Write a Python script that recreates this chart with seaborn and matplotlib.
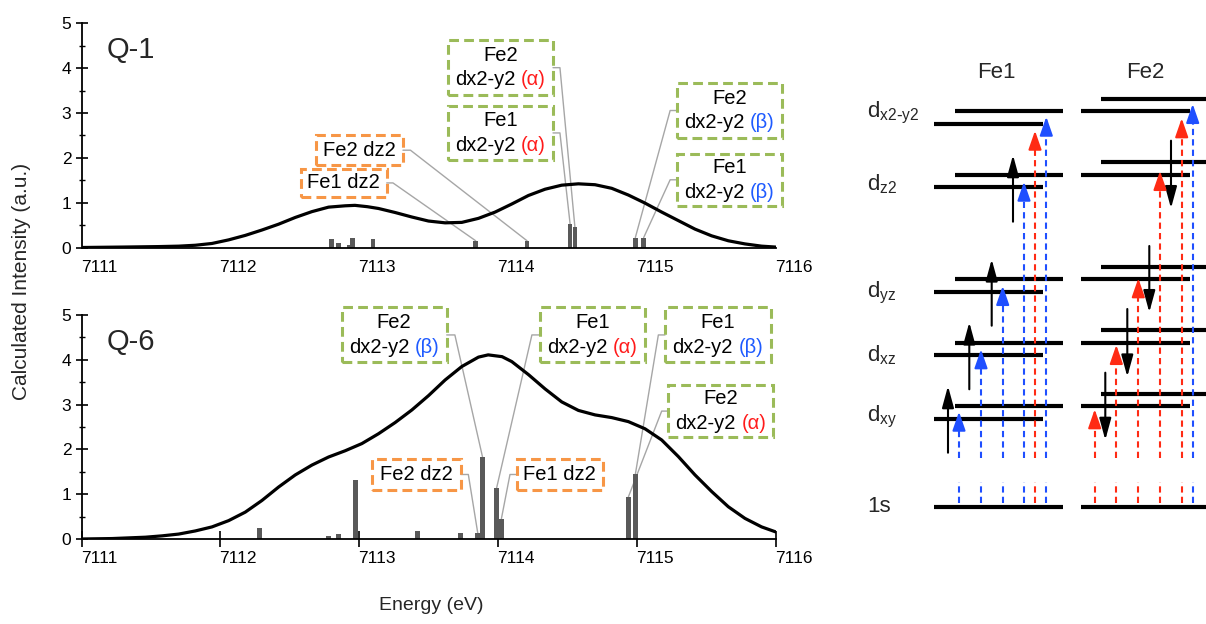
import numpy as np
import pandas as pd
import matplotlib
matplotlib.use("Agg")
import matplotlib.pyplot as plt
import seaborn as sns
from matplotlib.patches import Rectangle
from matplotlib.offsetbox import TextArea, HPacker, VPacker, AnnotationBbox
from matplotlib.transforms import ScaledTranslation

# ---------------- data ----------------
energy_ticks = [7111, 7112, 7113, 7114, 7115, 7116]
intensity_ticks = [0, 1, 2, 3, 4, 5]

# Q-1 stick transitions
q1_bar_e = [7112.80, 7112.853, 7112.93, 7112.95, 7113.10, 7113.84, 7114.21, 7114.52, 7114.555, 7114.99, 7115.05]
q1_bar_i = [0.19, 0.11, 0.06, 0.22, 0.19, 0.15, 0.15, 0.53, 0.45, 0.22, 0.22]
# Q-1 broadened spectrum
q1_e = [7111.00, 7111.30, 7111.55, 7111.70, 7111.82, 7111.94, 7112.06, 7112.18, 7112.30, 7112.42,
        7112.54, 7112.66, 7112.78, 7112.90, 7112.97, 7113.06, 7113.14, 7113.26, 7113.38, 7113.50,
        7113.62, 7113.74, 7113.86, 7113.98, 7114.10, 7114.22, 7114.34, 7114.46, 7114.58, 7114.70,
        7114.82, 7114.94, 7115.06, 7115.18, 7115.30, 7115.42, 7115.54, 7115.66, 7115.78, 7115.90,
        7116.00]
q1_i = [0.00, 0.01, 0.02, 0.03, 0.05, 0.09, 0.17, 0.27, 0.39, 0.52,
        0.67, 0.80, 0.90, 0.93, 0.94, 0.91, 0.87, 0.78, 0.68, 0.59,
        0.55, 0.56, 0.65, 0.79, 0.97, 1.16, 1.30, 1.39, 1.42, 1.40,
        1.32, 1.17, 0.99, 0.79, 0.60, 0.41, 0.26, 0.15, 0.08, 0.03,
        0.01]

# Q-6 stick transitions
q6_bar_e = [7112.285, 7112.78, 7112.853, 7112.975, 7113.42, 7113.73, 7113.855, 7113.89, 7113.99, 7114.025, 7114.94, 7114.99]
q6_bar_i = [0.25, 0.06, 0.105, 1.32, 0.18, 0.13, 0.13, 1.82, 1.13, 0.45, 0.94, 1.44]
# Q-6 broadened spectrum
q6_e = [7111.00, 7111.22, 7111.46, 7111.58, 7111.70, 7111.82, 7111.94, 7112.06, 7112.18, 7112.30,
        7112.42, 7112.54, 7112.66, 7112.78, 7112.90, 7113.02, 7113.14, 7113.26, 7113.38, 7113.50,
        7113.62, 7113.74, 7113.86, 7113.93, 7114.03, 7114.10, 7114.22, 7114.34, 7114.46, 7114.58,
        7114.70, 7114.82, 7114.94, 7115.06, 7115.18, 7115.30, 7115.42, 7115.54, 7115.66, 7115.78,
        7115.90, 7116.00]
q6_i = [0.00, 0.01, 0.04, 0.07, 0.11, 0.18, 0.27, 0.41, 0.60, 0.86,
        1.16, 1.43, 1.65, 1.83, 1.97, 2.13, 2.35, 2.60, 2.88, 3.20,
        3.55, 3.85, 4.06, 4.11, 4.07, 3.96, 3.67, 3.35, 3.06, 2.87,
        2.77, 2.71, 2.62, 2.46, 2.21, 1.84, 1.43, 1.06, 0.72, 0.46,
        0.27, 0.16]

# annotation labels: (site, orbital, spin, target bar index)
q1_labels = [("Fe2", "dx2-y2", "α", 8), ("Fe1", "dx2-y2", "α", 7), ("Fe2", "dz2", None, 6),
             ("Fe1", "dz2", None, 5), ("Fe2", "dx2-y2", "β", 9), ("Fe1", "dx2-y2", "β", 10)]
q6_labels = [("Fe2", "dx2-y2", "β", 7), ("Fe1", "dx2-y2", "α", 8), ("Fe1", "dx2-y2", "β", 11),
             ("Fe2", "dx2-y2", "α", 10), ("Fe2", "dz2", None, 6), ("Fe1", "dz2", None, 9)]

# energy-level diagram (schematic)
orbitals = [r"d$_{x2\text{-}y2}$", r"d$_{z2}$", r"d$_{yz}$", r"d$_{xz}$", r"d$_{xy}$"]
fe1_upper = [111, 175, 279, 343.3, 406]
fe1_lower = [124.3, 187, 292.3, 355.3, 419.3]
fe2_upper = [99.3, 162.3, 267.3, 330.3, 394.3]
fe2_lower = [111, 175, 279, 343.3, 406]
fe1_spin_tail = [221.7, 325.7, 389.3, 452.7]
fe1_spin_tip = [155, 259.3, 322.3, 386]
fe2_spin_tail = [140.7, 246, 309, 372.7]
fe2_spin_tip = [208.3, 312.3, 376.7, 440]
fe1_trans_tip = [411.7, 349.3, 286, 181.7, 130.7, 116.7]
fe1_trans_spin = ["β", "β", "β", "β", "α", "β"]
fe2_trans_tip = [409.3, 345, 278.3, 171, 118.3, 104]
fe2_trans_spin = ["α", "α", "α", "α", "α", "β"]

# ---------------- style / layout ----------------
sns.set_theme(style="white")
plt.rcParams["font.family"] = ["Liberation Sans", "DejaVu Sans"]
plt.rcParams["mathtext.default"] = "regular"

GREEN = "#9BBB59"
ORANGE = "#F79646"
RED = "#FF1A1A"
BLUE = "#1F5BFF"
ARED = "#FF2B14"
ABLUE = "#1F4FFF"
BAR = "#595959"
LEAD = "#A6A6A6"
FS_BOX = 14.5

W, H = 1206, 624
fig = plt.figure(figsize=(W / 100, H / 100), dpi=100)

def fx(px):
    return px / W

def fy(py):
    return 1 - py / H

ax1 = fig.add_axes([fx(81.5), fy(247.5), fx(694), 224.2 / H])
ax2 = fig.add_axes([fx(81.5), fy(539), fx(694), 224.0 / H])

# box layout (data coords) : x0, x1, y0, y1, leader side, stub x
q1_boxes = [(7113.640, 7114.397, 3.40, 4.62, "right", 7114.447),
            (7113.640, 7114.397, 1.95, 3.16, "right", 7114.447),
            (7112.690, 7113.316, 1.83, 2.51, "right", 7113.370),
            (7112.579, 7113.199, 1.13, 1.75, "right", 7113.244),
            (7115.288, 7116.045, 2.44, 3.67, "left", 7115.241),
            (7115.288, 7116.045, 0.93, 2.09, "left", 7115.241)]
q6_boxes = [(7112.874, 7113.631, 3.94, 5.17, "right", 7113.690),
            (7114.303, 7115.060, 3.94, 5.17, "left", 7114.245),
            (7115.204, 7115.966, 3.94, 5.17, "left", 7115.156),
            (7115.228, 7115.985, 2.27, 3.44, "left", 7115.180),
            (7113.095, 7113.732, 1.09, 1.79, "right", 7113.787),
            (7114.135, 7114.755, 1.09, 1.79, "left", 7114.087)]

def draw_panel(ax, bar_e, bar_i, cur_e, cur_i, tag, labels, boxes, xticks_visible):
    ax.bar(bar_e, bar_i, width=0.034, color=BAR, linewidth=0, zorder=2)
    df = pd.DataFrame({"Energy": cur_e, "Intensity": cur_i})
    sns.lineplot(data=df, x="Energy", y="Intensity", ax=ax, color="black", linewidth=2.3, zorder=3)
    ax.lines[-1].set_solid_joinstyle("round")
    ax.set_xlim(7111, 7116)
    ax.set_ylim(0, 5)
    ax.set_xticks(energy_ticks)
    ax.set_xticklabels([str(t) for t in energy_ticks])
    ax.set_yticks(intensity_ticks)
    ax.set_yticks(np.arange(0.5, 5, 1.0), minor=True)
    ax.set_xlabel("")
    ax.set_ylabel("")
    for s in ["top", "right"]:
        ax.spines[s].set_visible(False)
    for s in ["left", "bottom"]:
        ax.spines[s].set_color("black")
        ax.spines[s].set_linewidth(1.3)
    ax.tick_params(axis="y", which="major", direction="inout", length=8.5, width=1.2, pad=3,
                   labelsize=12.5, left=True, colors="black")
    ax.tick_params(axis="y", which="minor", direction="inout", length=4.5, width=1.0, left=True,
                   colors="black")
    if xticks_visible:
        ax.tick_params(axis="x", which="major", direction="inout", length=11, width=1.2, pad=3,
                       labelsize=12.5, bottom=True, colors="black")
    else:
        ax.tick_params(axis="x", which="major", length=0, pad=9, labelsize=12.5, bottom=True,
                       colors="black")
    off = ScaledTranslation(18 / 100, 0, fig.dpi_scale_trans)
    for lab in ax.get_xticklabels():
        lab.set_transform(lab.get_transform() + off)
    ax.patch.set_alpha(0)
    ax.text(0.036, 0.88, tag, transform=ax.transAxes, fontsize=21, ha="left", va="center")

    for (site, orb, spin, idx), (x0, x1, y0, y1, side, stub) in zip(labels, boxes):
        col = ORANGE if spin is None else GREEN
        ax.add_patch(Rectangle((x0, y0), x1 - x0, y1 - y0, fill=False, edgecolor=col,
                               linewidth=2.2, linestyle=(0, (3.2, 1.7)), clip_on=False, zorder=4))
        ym = (y0 + y1) / 2
        xe = x1 if side == "right" else x0
        ax.plot([xe, stub, bar_e[idx]], [ym, ym, bar_i[idx]], color=LEAD, linewidth=1.0,
                clip_on=False, zorder=1.5)
        tp = dict(fontsize=FS_BOX, color="black")
        if spin is None:
            content = TextArea(f"{site} {orb}", textprops=tp)
        else:
            scol = RED if spin == "α" else BLUE
            line2 = HPacker(children=[TextArea(orb, textprops=tp),
                                      TextArea(f"({spin})", textprops=dict(fontsize=FS_BOX, color=scol))],
                            align="baseline", pad=0, sep=4)
            content = VPacker(children=[TextArea(site, textprops=tp), line2], align="center", pad=0, sep=4)
        ab = AnnotationBbox(content, ((x0 + x1) / 2, ym), frameon=False, box_alignment=(0.5, 0.5),
                            pad=0, annotation_clip=False, zorder=5)
        ax.add_artist(ab)

draw_panel(ax1, q1_bar_e, q1_bar_i, q1_e, q1_i, "Q-1", q1_labels, q1_boxes, False)
draw_panel(ax2, q6_bar_e, q6_bar_i, q6_e, q6_i, "Q-6", q6_labels, q6_boxes, True)

fig.text(fx(22), fy(281), "Calculated Intensity (a.u.)", rotation=90, ha="center", va="center",
         fontsize=15)
fig.text(fx(431), fy(605), "Energy (eV)", ha="center", va="center", fontsize=14)

# ---------------- energy-level diagram ----------------
axd = fig.add_axes([0, 0, 1, 1], zorder=-1)
axd.set_xlim(0, W)
axd.set_ylim(H, 0)
axd.axis("off")

LW_LEVEL = 3.0
FS_D = 16
axd.text(996.7, 72, "Fe1", fontsize=FS_D, ha="center", va="center")
axd.text(1145, 72, "Fe2", fontsize=FS_D, ha="center", va="center")
label_y = [112.5, 184, 293, 355, 417]
for name, ly in zip(orbitals, label_y):
    axd.text(867, ly, name, fontsize=FS_D, ha="left", va="center")
axd.text(867, 506.7, "1s", fontsize=FS_D, ha="left", va="center")

for yu, yl in zip(fe1_upper, fe1_lower):
    axd.plot([955, 1063.3], [yu, yu], color="black", lw=LW_LEVEL, solid_capstyle="butt")
    axd.plot([934, 1042.7], [yl, yl], color="black", lw=LW_LEVEL, solid_capstyle="butt")
for yu, yl in zip(fe2_upper, fe2_lower):
    axd.plot([1101, 1206], [yu, yu], color="black", lw=LW_LEVEL, solid_capstyle="butt")
    axd.plot([1080.7, 1190], [yl, yl], color="black", lw=LW_LEVEL, solid_capstyle="butt")
axd.plot([934, 1062.7], [507, 507], color="black", lw=LW_LEVEL, solid_capstyle="butt")
axd.plot([1080.7, 1206], [507, 507], color="black", lw=LW_LEVEL, solid_capstyle="butt")

def arrow(x, y_from, y_to, color, hl=1.1, hw=0.3, lw=1.5):
    axd.annotate("", xy=(x, y_to), xytext=(x, y_from),
                 arrowprops=dict(arrowstyle=f"-|>,head_length={hl},head_width={hw}", color=color,
                                 lw=lw, shrinkA=0, shrinkB=0), zorder=4)

fe1_spin_x = [1013, 991.7, 969.3, 948]
fe2_spin_x = [1171, 1149.3, 1127.3, 1105.3]
for x, t0, t1 in zip(fe1_spin_x, fe1_spin_tail, fe1_spin_tip):
    arrow(x, t0, t1, "black")
for x, t0, t1 in zip(fe2_spin_x, fe2_spin_tail, fe2_spin_tip):
    arrow(x, t0, t1, "black")

fe1_trans_x = [959, 981, 1002.7, 1024, 1035, 1046.3]
fe2_trans_x = [1094.7, 1116.3, 1138.3, 1160, 1181.7, 1192.7]
GAP_TOP, GAP_BOT, BASE = 458, 482, 503
for xs, tips, spins in [(fe1_trans_x, fe1_trans_tip, fe1_trans_spin),
                        (fe2_trans_x, fe2_trans_tip, fe2_trans_spin)]:
    for x, tip, sp in zip(xs, tips, spins):
        c = ARED if sp == "α" else ABLUE
        axd.plot([x, x], [BASE, GAP_BOT], color=c, lw=1.5, ls=(0, (3, 2)), zorder=3)
        axd.plot([x, x], [GAP_TOP, tip + 12], color=c, lw=1.5, ls=(0, (3, 2)), zorder=3)
        arrow(x, tip + 14, tip, c, hl=0.95, hw=0.33, lw=1.5)

fig.savefig("out.png", dpi=100)
